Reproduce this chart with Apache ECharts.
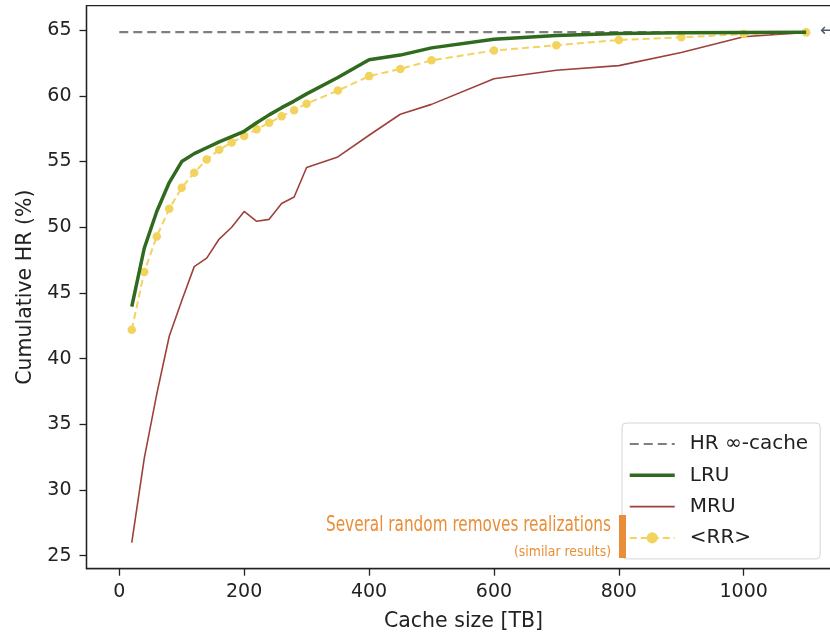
<!DOCTYPE html>
<html><head><meta charset="utf-8">
<script src="https://cdn.jsdelivr.net/npm/echarts@6/dist/echarts.min.js"></script>
<style>html,body{margin:0;padding:0;background:#fff}#c{width:830px;height:633px}</style>
</head><body><div id="c"></div>
<script>
// ---- data ----
const cacheSizes = [20,40,60,80,100,120,140,160,180,200,220,240,260,280,300,350,400,450,500,600,700,800,900,1000,1100];
const lru = [43.95,48.4,51.2,53.4,55.0,55.6,56.05,56.5,56.9,57.3,57.95,58.55,59.1,59.6,60.15,61.4,62.75,63.1,63.65,64.3,64.6,64.75,64.8,64.82,64.83];
const mru = [26.0,32.4,37.3,41.7,44.4,47.0,47.65,49.1,50.0,51.2,50.45,50.6,51.8,52.3,54.55,55.35,57.0,58.6,59.35,61.3,61.95,62.3,63.3,64.5,64.83];
const rr  = [42.2,46.6,49.3,51.4,53.0,54.15,55.15,55.9,56.45,56.95,57.45,57.95,58.45,58.9,59.4,60.4,61.5,62.05,62.7,63.45,63.85,64.25,64.45,64.7,64.83];
const hrInfX = [0,1100];
const hrInf = 64.85;
const xTicks = [0,200,400,600,800,1000];
const yTicks = [25,30,35,40,45,50,55,60,65];
const names = {hr:'HR \u221e-cache', lru:'LRU', mru:'MRU', rr:'<RR>'};
const annotation = ['Several random removes realizations','(similar results)'];

const pair = (xs, ys) => xs.map((x,i)=>[x, ys[i]]);
const FONT = 'DejaVu Sans';
const NARROW = '"Liberation Sans Narrow", "DejaVu Sans Condensed", "Liberation Sans", sans-serif';
function fitScale(text, font, target){
  const ctx = document.createElement('canvas').getContext('2d');
  ctx.font = font;
  const w = ctx.measureText(text).width;
  return w > 0 ? target / w : 1;
}
const f1 = '22px ' + NARROW, f2 = '14px ' + NARROW;
const s1 = fitScale(annotation[0], f1, 285), s2 = fitScale(annotation[1], f2, 97);
const ORANGE = '#e98e36';
const C = {hr:'#7f7f7f', lru:'#2f6a1e', mru:'#9e413b', rr:'#f2d35e'};

const chart = echarts.init(document.getElementById('c'), null, {renderer:'canvas'});
chart.setOption({
  animation:false,
  backgroundColor:'#fff',
  textStyle:{fontFamily:FONT},
  grid:{left:86.5, top:5.7, width:754, height:563, outerBoundsMode:'none', containLabel:false,
    show:true, borderColor:'#222', borderWidth:1.3, backgroundColor:'transparent'},
  xAxis:{type:'value', min:-52.5, max:1155,
    name:'Cache size [TB]', nameLocation:'middle', nameGap:42,
    nameTextStyle:{fontFamily:FONT, fontSize:20.5, color:'#222'},
    axisLine:{show:true, onZero:false, lineStyle:{color:'#222', width:1.3}},
    axisTick:{show:true, length:7, customValues:xTicks, lineStyle:{color:'#222', width:1.3}},
    axisLabel:{customValues:xTicks, formatter:v=>String(v), fontFamily:FONT, fontSize:19, color:'#222', margin:14},
    splitLine:{show:false}},
  yAxis:{type:'value', min:24.01, max:66.86,
    name:'Cumulative HR (%)', nameLocation:'middle', nameGap:50,
    nameTextStyle:{fontFamily:FONT, fontSize:20.5, color:'#222'},
    axisLine:{show:true, onZero:false, lineStyle:{color:'#222', width:1.3}},
    axisTick:{show:true, length:7, customValues:yTicks, lineStyle:{color:'#222', width:1.3}},
    axisLabel:{customValues:yTicks, fontFamily:FONT, fontSize:19, color:'#222', margin:15},
    splitLine:{show:false}},
  legend:{orient:'vertical', left:622, top:423, padding:[11,12,11,6],
    backgroundColor:'rgba(255,255,255,0.85)', borderColor:'#d4d4d4', borderWidth:1, borderRadius:4,
    itemWidth:45, itemHeight:14, itemGap:11.3,
    textStyle:{fontFamily:FONT, fontSize:20, lineHeight:20, color:'#222', padding:[0,0,0,10]},
    data:[
      {name:names.hr, itemStyle:{opacity:0}, lineStyle:{color:C.hr, width:2.2, type:[9,5]}},
      {name:names.lru, itemStyle:{opacity:0}, lineStyle:{color:C.lru, width:3.5}},
      {name:names.mru, itemStyle:{opacity:0}, lineStyle:{color:C.mru, width:1.6}},
      {name:names.rr, lineStyle:{color:C.rr, width:2, type:[7,4]}}
    ]},
  graphic:[
    {type:'rect', left:619, top:515, shape:{width:7, height:43}, style:{fill:ORANGE}, z:100},
    {type:'text', x:611, y:525, scaleX:s1, style:{text:annotation[0], font:f1, fill:ORANGE, align:'right', verticalAlign:'middle', textAlign:'right', textVerticalAlign:'middle'}, z:100},
    {type:'text', x:611, y:552, scaleX:s2, style:{text:annotation[1], font:f2, fill:ORANGE, align:'right', verticalAlign:'middle', textAlign:'right', textVerticalAlign:'middle'}, z:100},
    {type:'text', left:820, top:22, style:{text:'\u2190', font:'18px "DejaVu Sans"', fill:'#4d5b6b'}, z:100}
  ],
  series:[
    {name:names.hr, type:'line', data:pair(hrInfX,[hrInf,hrInf]), showSymbol:false, symbol:'none',
      lineStyle:{color:C.hr, width:2.2, type:[9,5]}, itemStyle:{color:C.hr}, z:2},
    {name:names.mru, type:'line', data:pair(cacheSizes,mru), showSymbol:false, symbol:'none',
      lineStyle:{color:C.mru, width:1.6}, itemStyle:{color:C.mru}, z:3},
    {name:names.rr, type:'line', data:pair(cacheSizes,rr), symbol:'circle', symbolSize:8.5, showSymbol:true,
      lineStyle:{color:C.rr, width:2, type:[7,4]}, itemStyle:{color:C.rr, borderWidth:0}, z:4},
    {name:names.lru, type:'line', data:pair(cacheSizes,lru), showSymbol:false, symbol:'none',
      lineStyle:{color:C.lru, width:3.5}, itemStyle:{color:C.lru}, z:5}
  ]
});
</script></body></html>
